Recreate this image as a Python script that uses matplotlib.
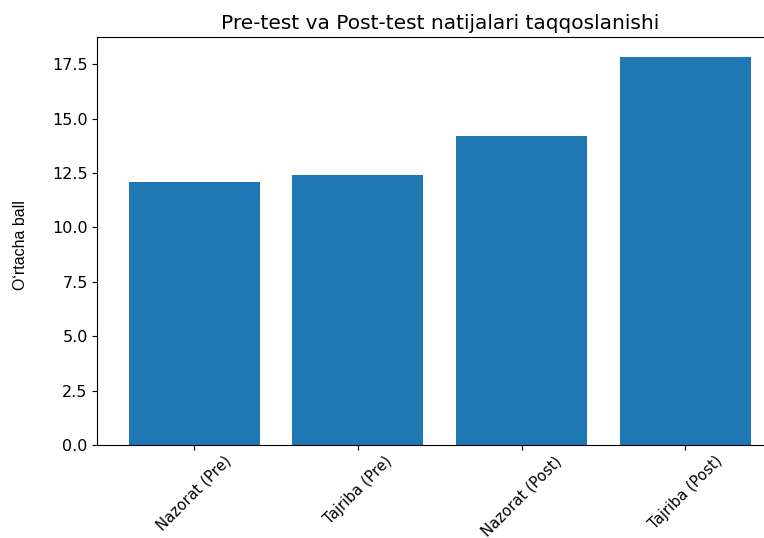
import matplotlib
matplotlib.use("Agg")
import matplotlib.pyplot as plt

categories = ["Nazorat (Pre)", "Tajriba (Pre)", "Nazorat (Post)", "Tajriba (Post)"]
values = [12.1, 12.4, 14.2, 17.85]
title = "Pre-test va Post-test natijalari taqqoslanishi"
ylabel = "O‘rtacha ball"

fig = plt.figure(figsize=(7.64, 5.38), dpi=100)
ax = fig.add_axes([0.1275, 0.1729, 1.0236 - 0.1275, 0.9309 - 0.1729])
ax.bar(categories, values, color="#1f77b4")
ax.set_title(title, fontsize=14.5, pad=6)
ax.set_ylabel(ylabel, family=["Liberation Sans", "DejaVu Sans"], fontsize=11.5)
ax.yaxis.set_label_coords(-0.102, 0.49)
ax.tick_params(axis="y", labelsize=11.5)
ax.tick_params(axis="x", labelrotation=45, labelsize=10.7, pad=2.5)
fig.savefig("out.png", dpi=100)
